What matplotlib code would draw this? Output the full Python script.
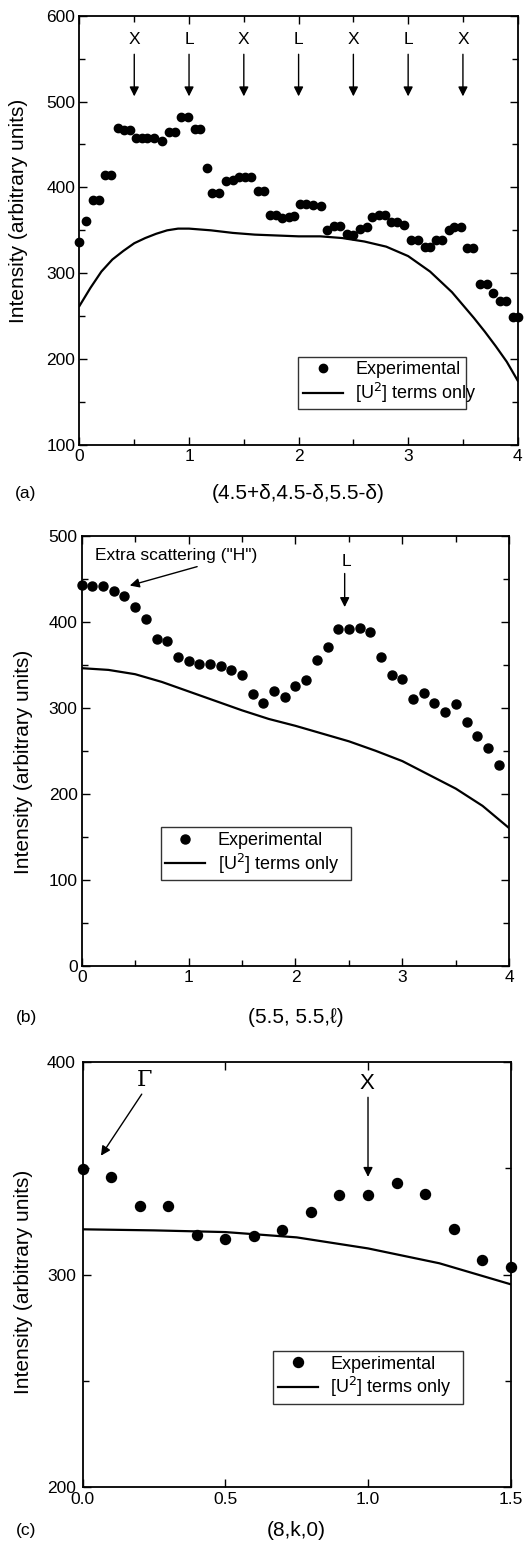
import matplotlib
matplotlib.use("Agg")
import matplotlib.pyplot as plt
from matplotlib.ticker import MultipleLocator, FormatStrFormatter

plt.rcParams['font.family'] = ['Liberation Sans', 'DejaVu Sans']

# ---- panel (a): (4.5+d, 4.5-d, 5.5-d)
a_x = [0.00, 0.06, 0.12, 0.18, 0.23, 0.29, 0.35, 0.41, 0.46, 0.52, 0.57, 0.62,
       0.68, 0.75, 0.82, 0.87, 0.93, 0.99, 1.05, 1.10, 1.16, 1.21, 1.27, 1.34,
       1.40, 1.46, 1.51, 1.57, 1.63, 1.68, 1.74, 1.79, 1.85, 1.91, 1.96, 2.01,
       2.07, 2.13, 2.20, 2.26, 2.32, 2.38, 2.44, 2.50, 2.56, 2.62, 2.67, 2.73,
       2.79, 2.84, 2.90, 2.96, 3.03, 3.09, 3.15, 3.20, 3.25, 3.31, 3.37, 3.42,
       3.48, 3.54, 3.59, 3.66, 3.72, 3.77, 3.84, 3.89, 3.96, 4.00]
a_exp = [336, 361, 385, 385, 415, 415, 469, 467, 467, 457, 457, 457,
         457, 454, 465, 465, 482, 482, 468, 468, 423, 394, 394, 407,
         409, 412, 412, 412, 396, 396, 368, 368, 364, 366, 367, 381,
         381, 380, 378, 350, 355, 355, 346, 345, 352, 354, 365, 368,
         368, 360, 360, 356, 339, 339, 331, 331, 339, 339, 350, 354,
         354, 329, 329, 288, 288, 277, 268, 268, 249, 249]
a_lx = [0.0, 0.1, 0.2, 0.3, 0.4, 0.5, 0.6, 0.7, 0.8, 0.9, 1.0, 1.2, 1.4, 1.6,
        1.8, 2.0, 2.2, 2.4, 2.6, 2.8, 3.0, 3.2, 3.4, 3.5, 3.6, 3.7, 3.8, 3.9, 4.0]
a_u2 = [262, 283, 302, 316, 326, 335, 341, 346, 350, 352, 352, 350, 347, 345,
        344, 343, 343, 341, 337, 331, 320, 302, 278, 263, 248, 232, 215, 197, 175]
a_marks = ['X', 'L', 'X', 'L', 'X', 'L', 'X']
a_mark_x = [0.5, 1.0, 1.5, 2.0, 2.5, 3.0, 3.5]

# ---- panel (b): (5.5, 5.5, l)
b_x = [0.0, 0.1, 0.2, 0.3, 0.4, 0.5, 0.6, 0.7, 0.8, 0.9, 1.0, 1.1, 1.2, 1.3,
       1.4, 1.5, 1.6, 1.7, 1.8, 1.9, 2.0, 2.1, 2.2, 2.3, 2.4, 2.5, 2.6, 2.7,
       2.8, 2.9, 3.0, 3.1, 3.2, 3.3, 3.4, 3.5, 3.6, 3.7, 3.8, 3.9]
b_exp = [443, 441, 441, 436, 430, 417, 403, 380, 378, 359, 354, 351, 351, 349,
         344, 338, 316, 305, 319, 312, 325, 332, 356, 371, 391, 391, 393, 388,
         359, 338, 334, 310, 317, 306, 295, 304, 283, 267, 253, 233]
b_lx = [0.0, 0.25, 0.5, 0.75, 1.0, 1.25, 1.5, 1.75, 2.0, 2.25, 2.5, 2.75, 3.0,
        3.25, 3.5, 3.75, 4.0]
b_u2 = [346, 344, 339, 330, 319, 308, 297, 287, 279, 270, 261, 250, 238,
        222, 206, 186, 160]

# ---- panel (c): (8, k, 0)
c_x = [0.0, 0.1, 0.2, 0.3, 0.4, 0.5, 0.6, 0.7, 0.8, 0.9, 1.0, 1.1, 1.2, 1.3,
       1.4, 1.5]
c_exp = [349.6, 345.8, 332.1, 332.1, 318.5, 316.6, 318.1, 321.0, 329.3, 337.3,
         337.3, 343.0, 337.8, 321.4, 307.0, 303.5]
c_lx = [0.0, 0.25, 0.5, 0.75, 1.0, 1.25, 1.5]
c_u2 = [321.3, 320.8, 320.0, 317.5, 312.3, 305.3, 295.4]

fig = plt.figure(figsize=(5.25, 15.49), dpi=100)
ax_a = fig.add_axes([0.1514, 0.7127, 0.8347, 0.2772])
ax_b = fig.add_axes([0.1556, 0.3764, 0.8145, 0.2778])
ax_c = fig.add_axes([0.1575, 0.0402, 0.8152, 0.2740])

arrow = dict(arrowstyle='-|>', color='k', lw=1.0, mutation_scale=14,
             shrinkA=0, shrinkB=0)


def style_axes(ax, xlim, ylim, xmaj, xmin, ymaj, ymin):
    ax.set_xlim(*xlim)
    ax.set_ylim(*ylim)
    ax.xaxis.set_major_locator(MultipleLocator(xmaj))
    if xmin:
        ax.xaxis.set_minor_locator(MultipleLocator(xmin))
    ax.yaxis.set_major_locator(MultipleLocator(ymaj))
    ax.yaxis.set_minor_locator(MultipleLocator(ymin))
    ax.tick_params(which='both', direction='in', top=True, right=True,
                   labelsize=12.5, width=1.0, pad=3)
    ax.tick_params(which='major', length=6)
    ax.tick_params(which='minor', length=4)
    for s in ax.spines.values():
        s.set_linewidth(1.3)


def draw(ax, x, y, lx, ly, ms):
    ax.plot(x, y, 'o', color='k', ms=ms, clip_on=False, zorder=3,
            label='Experimental')
    ax.plot(lx, ly, '-', color='k', lw=1.6, label='[U$^2$] terms only')


def add_legend(ax, box):
    leg = ax.legend(loc='center', bbox_to_anchor=box, mode='expand',
                    fontsize=13, frameon=True, fancybox=False,
                    borderpad=0.25, handlelength=2.2, handletextpad=0.7,
                    labelspacing=0.15, borderaxespad=0)
    leg.get_frame().set_edgecolor('k')
    leg.get_frame().set_linewidth(1.0)


def labels(ax, xlab, ylab_pos, xlab_y, tag, tag_x):
    ax.text(ylab_pos[0], ylab_pos[1], 'Intensity (arbitrary units)',
            transform=ax.transAxes, rotation=90, fontsize=15,
            ha='center', va='center')
    ax.text(0.5, xlab_y, xlab, transform=ax.transAxes, fontsize=15,
            ha='center', va='center')
    ax.text(tag_x, xlab_y, tag, transform=ax.transAxes, fontsize=12.5,
            ha='left', va='center')


# (a)
draw(ax_a, a_x, a_exp, a_lx, a_u2, 6.0)
style_axes(ax_a, (0, 4), (100, 600), 1, 0.5, 100, 50)
for m, xm in zip(a_marks, a_mark_x):
    ax_a.text(xm, 572, m, ha='center', va='center', fontsize=12.5)
    ax_a.annotate('', xy=(xm, 506), xytext=(xm, 555), arrowprops=arrow)
add_legend(ax_a, (0.4993, 0.0832, 0.3817, 0.1225))
labels(ax_a, '(4.5+δ,4.5-δ,5.5-δ)', (-0.14, 0.545), -0.112, '(a)', -0.148)

# (b)
draw(ax_b, b_x, b_exp, b_lx, b_u2, 6.5)
style_axes(ax_b, (0, 4), (0, 500), 1, 0.5, 100, 50)
ax_b.text(0.124, 477, 'Extra scattering ("H")', ha='left', va='center',
          fontsize=12.5)
ax_b.annotate('', xy=(0.45, 442), xytext=(1.08, 464), arrowprops=arrow)
ax_b.text(2.48, 470, 'L', ha='center', va='center', fontsize=12.5)
ax_b.annotate('', xy=(2.46, 417), xytext=(2.46, 456), arrowprops=arrow)
add_legend(ax_b, (0.1848, 0.2038, 0.445, 0.1139))
labels(ax_b, '(5.5, 5.5,ℓ)', (-0.137, 0.475), -0.12, '(b)', -0.155)

# (c)
draw(ax_c, c_x, c_exp, c_lx, c_u2, 7.2)
style_axes(ax_c, (0, 1.5), (200, 400), 0.5, None, 100, 50)
ax_c.tick_params(axis='y', pad=5)
ax_c.tick_params(axis='x', pad=4)
ax_c.xaxis.set_major_formatter(FormatStrFormatter('%.1f'))
ax_c.text(0.215, 391.5, 'Γ', ha='center', va='center', fontsize=16,
          family='DejaVu Serif')
ax_c.annotate('', xy=(0.064, 356), xytext=(0.207, 385), arrowprops=arrow)
ax_c.text(0.995, 390, 'X', ha='center', va='center', fontsize=16)
ax_c.annotate('', xy=(1.0, 346), xytext=(1.0, 383.5), arrowprops=arrow)
add_legend(ax_c, (0.4453, 0.2003, 0.4427, 0.114))
labels(ax_c, '(8,k,0)', (-0.139, 0.483), -0.102, '(c)', -0.155)

fig.savefig('out.png', dpi=100)
